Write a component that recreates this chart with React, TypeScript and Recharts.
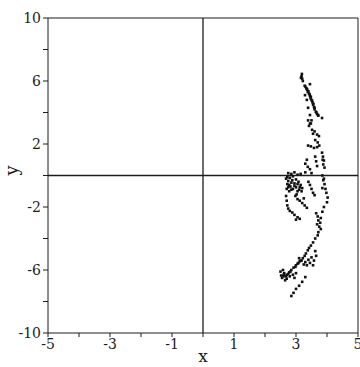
import { ScatterChart, Scatter, XAxis, YAxis, ReferenceLine } from 'recharts'

// x ticks / y ticks (only every other one carries a label)
const X_TICKS = [-5, -4, -3, -2, -1, 0, 1, 2, 3, 4, 5]
const X_LABELED = [-5, -3, -1, 1, 3, 5]
const Y_TICKS = [-10, -8, -6, -4, -2, 0, 2, 4, 6, 8, 10]
const Y_LABELED = [-10, -6, -2, 2, 6, 10]

// points, grouped top to bottom
const topArm = [
  [3.19, 6.45], [3.18, 6.3], [3.2, 6.15], [3.22, 6.0], [3.16, 6.2],
  [3.28, 5.7], [3.33, 5.55], [3.36, 5.45], [3.38, 5.3], [3.42, 5.2],
  [3.45, 5.05], [3.47, 4.9], [3.5, 4.8], [3.53, 4.65], [3.55, 4.5],
  [3.58, 4.35], [3.6, 4.2], [3.64, 4.05], [3.68, 3.9], [3.72, 3.8],
  [3.45, 5.8], [3.29, 5.1], [3.35, 4.8], [3.39, 4.3], [3.45, 3.84],
  [3.5, 3.5], [3.48, 3.3], [3.71, 3.84], [3.84, 3.65],
  [3.3, 5.65], [3.35, 5.5], [3.4, 5.35], [3.44, 5.15], [3.48, 5.0],
  [3.52, 4.75], [3.56, 4.55], [3.6, 4.3], [3.66, 4.0],
]
const upperMid = [
  [3.39, 3.5], [3.45, 3.3], [3.42, 3.15], [3.52, 2.9], [3.6, 2.8],
  [3.68, 2.6], [3.74, 2.5], [3.55, 2.65], [3.62, 2.25], [3.7, 2.1],
  [3.39, 1.9], [3.48, 1.85], [3.58, 1.75], [3.68, 1.8], [3.75, 1.9],
  [3.84, 1.45], [3.87, 1.2], [3.9, 0.95], [3.88, 0.7], [3.92, 0.5],
  [3.86, 1.0], [3.62, 1.2], [3.65, 0.9], [3.68, 0.6], [3.35, 1.0],
  [3.3, 0.75], [3.38, 0.55], [3.45, 0.4], [3.3, 0.2], [3.5, 0.15],
  [2.75, 0.15], [2.85, 0.1], [2.95, 0.2], [3.05, 0.05], [3.15, 0.1],
  [2.9, -0.05],
]
const lowerMid = [
  [2.68, -0.2], [2.75, -0.35], [2.8, -0.15], [2.88, -0.3], [2.95, -0.5],
  [3.0, -0.25], [3.08, -0.4], [3.15, -0.6], [2.72, -0.55], [2.82, -0.7],
  [2.9, -0.85], [3.0, -0.75], [3.1, -0.9], [3.18, -1.0], [2.7, -0.85],
  [2.78, -1.0], [2.68, -1.3], [2.7, -1.6], [2.72, -1.9], [2.75, -2.1],
  [2.8, -2.25], [2.98, -1.3], [3.05, -1.5], [3.12, -1.6], [3.2, -1.75],
  [3.28, -1.9], [3.35, -2.05], [3.02, -1.2], [3.25, -1.45], [2.88, -2.35],
  [2.95, -2.5], [3.05, -2.65], [3.12, -2.75], [3.0, -2.8], [3.4, -0.4],
  [3.45, -0.6], [3.5, -0.85], [3.55, -1.1], [3.6, -1.25], [3.85, 0.0],
  [3.88, -0.3], [3.92, -0.55], [3.95, -0.85], [3.98, -1.1], [4.02, -1.4],
  [4.0, -1.7], [3.9, -0.2], [3.85, -0.8], [3.9, -2.0], [3.85, -2.3],
  [3.8, -2.7], [3.78, -3.0], [3.8, -3.4], [3.65, -2.4], [3.7, -2.6],
  [3.72, -2.85], [3.68, -3.1], [3.75, -3.25],
  [2.72, -0.1], [2.85, -0.45], [2.95, -0.65], [3.05, -0.55], [3.12, -0.75],
  [2.78, -0.6], [2.85, -0.9], [3.05, -1.0], [2.75, -0.75], [3.2, -0.8],
]
const bottomArm = [
  [3.72, -3.6], [3.7, -3.8], [3.62, -4.0], [3.55, -4.25], [3.48, -4.45],
  [3.42, -4.6], [3.38, -4.75], [3.32, -4.95], [3.28, -5.1], [3.22, -5.25],
  [3.15, -5.4], [3.08, -5.55], [3.0, -5.7], [2.92, -5.85], [2.85, -6.0],
  [2.78, -6.15], [2.7, -6.3], [2.6, -6.4], [2.52, -6.35], [3.1, -5.25],
  [3.18, -5.4], [3.3, -5.5], [3.4, -5.35], [3.5, -5.2], [3.25, -5.65],
  [3.35, -5.7], [3.45, -5.55], [2.5, -6.1], [2.55, -6.5], [2.62, -6.2],
  [2.7, -6.55], [2.8, -6.4], [2.9, -6.3], [3.0, -6.2], [2.95, -6.5],
  [2.58, -6.0], [2.65, -6.65], [3.3, -6.45], [3.2, -6.75], [3.1, -7.0],
  [3.0, -7.2], [2.92, -7.45], [2.85, -7.65], [3.62, -4.8], [3.65, -5.1],
  [3.58, -5.4], [3.55, -5.7],
  [2.6, -6.3], [2.68, -6.4], [2.75, -6.25], [2.82, -6.1], [3.05, -5.6],
  [3.12, -5.45], [2.98, -5.8],
]

const points = [...topArm, ...upperMid, ...lowerMid, ...bottomArm].map(([x, y]) => ({ x, y }))

const INK = '#1c1c1c'
const FONT = '"DejaVu Serif", "Liberation Serif", serif'

const Dot = (props: any) => {
  const { cx, cy } = props
  return <rect x={cx - 1.3} y={cy - 1.3} width={2.6} height={2.6} fill="#111" />
}

export default function App() {
  return (
    <div style={{ position: 'absolute', left: 0, top: 0, width: 360, height: 367, background: '#fff' }}>
      <ScatterChart width={360} height={367} margin={{ top: 18, right: 2, bottom: 0, left: 0 }}>
        <XAxis
          type="number" dataKey="x" domain={[-5, 5]} ticks={X_TICKS} interval={0}
          height={34} stroke={INK} tickSize={4}
          tick={{ fontSize: 14, fill: INK, fontFamily: FONT }}
          tickFormatter={(v: number) => (X_LABELED.includes(v) ? String(v) : '')}
          label={{ value: 'x', position: 'insideBottom', offset: 5, fontSize: 17, fill: INK, fontFamily: FONT }}
        />
        <YAxis
          type="number" dataKey="y" domain={[-10, 10]} ticks={Y_TICKS} interval={0}
          width={48} stroke={INK} tickSize={5}
          tick={{ fontSize: 14, fill: INK, fontFamily: FONT }}
          tickFormatter={(v: number) => (Y_LABELED.includes(v) ? String(v) : '')}
          label={{ value: 'y', angle: -90, position: 'insideLeft', offset: 12, fontSize: 18, fill: INK, fontFamily: FONT }}
        />
        <ReferenceLine y={10} stroke={INK} strokeWidth={1.2} />
        <ReferenceLine x={5} stroke={INK} strokeWidth={1} />
        <ReferenceLine x={0} stroke={INK} strokeWidth={1.3} />
        <ReferenceLine y={0} stroke={INK} strokeWidth={1.3} />
        <Scatter data={points} shape={Dot} isAnimationActive={false} />
      </ScatterChart>
    </div>
  )
}
